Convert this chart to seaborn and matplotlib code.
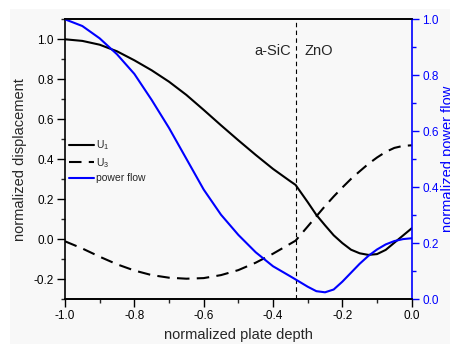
import numpy as np
import pandas as pd
import matplotlib
matplotlib.use("Agg")
import matplotlib.pyplot as plt
from matplotlib.lines import Line2D
from matplotlib.patches import Rectangle
from matplotlib.ticker import MultipleLocator, FormatStrFormatter
import seaborn as sns

# ---- data ----
depth = [-1.00, -0.95, -0.90, -0.85, -0.80, -0.75, -0.70, -0.65, -0.60, -0.55,
         -0.50, -0.45, -0.40, -0.35, -0.335, -0.30, -0.275, -0.25, -0.225, -0.20,
         -0.175, -0.15, -0.125, -0.10, -0.075, -0.05, -0.025, 0.00]
u1 = [1.000, 0.992, 0.973, 0.940, 0.895, 0.845, 0.788, 0.722, 0.647, 0.570,
      0.495, 0.422, 0.352, 0.290, 0.272, 0.186, 0.122, 0.070, 0.020, -0.019,
      -0.052, -0.070, -0.078, -0.074, -0.053, -0.017, 0.019, 0.055]
u3 = [-0.010, -0.046, -0.087, -0.125, -0.156, -0.179, -0.192, -0.197, -0.194, -0.179,
      -0.154, -0.117, -0.072, -0.022, -0.007, 0.064, 0.115, 0.166, 0.214, 0.259,
      0.302, 0.340, 0.377, 0.409, 0.437, 0.457, 0.467, 0.470]
power = [1.000, 0.976, 0.932, 0.875, 0.805, 0.712, 0.612, 0.502, 0.392, 0.302,
         0.230, 0.168, 0.118, 0.082, 0.071, 0.045, 0.029, 0.025, 0.035, 0.063,
         0.095, 0.127, 0.155, 0.178, 0.196, 0.208, 0.215, 0.218]
interface = -0.335
labels = ["U$_1$", "U$_3$", "power flow"]

df = pd.DataFrame({"depth": depth, "u1": u1, "u3": u3, "power": power})

sns.set_style("ticks")
plt.rcParams["font.family"] = ["Liberation Sans", "DejaVu Sans"]
plt.rcParams["mathtext.fontset"] = "custom"
plt.rcParams["mathtext.rm"] = "Liberation Sans"
plt.rcParams["mathtext.it"] = "Liberation Sans"
plt.rcParams["mathtext.default"] = "regular"
plt.rcParams["axes.unicode_minus"] = False

fig = plt.figure(figsize=(4.5, 3.44), dpi=100, facecolor="white")
fig.patches.append(Rectangle((10 / 450, 0), 1, 1 - 9 / 344, transform=fig.transFigure,
                             facecolor="#f8f8f8", edgecolor="none", zorder=-10))
ax = fig.add_axes([65 / 450, 1 - 299.3 / 344, 346.7 / 450, 280 / 344])
ax.set_facecolor("none")
ax2 = ax.twinx()
ax2.set_facecolor("none")

blue = "#0000ff"
lw = 1.5
sns.lineplot(data=df, x="depth", y="u1", ax=ax, color="black", lw=lw, sort=False,
             estimator=None)
sns.lineplot(data=df, x="depth", y="u3", ax=ax, color="black", lw=lw, sort=False,
             estimator=None, linestyle=(0, (6, 3.5)))
sns.lineplot(data=df, x="depth", y="power", ax=ax2, color=blue, lw=lw, sort=False,
             estimator=None)
ax.axvline(interface, color="black", lw=0.8, ls=(0, (4, 3)))

ax.set_xlim(-1.0, 0.0)
ax.set_ylim(-0.3, 1.1)
ax2.set_ylim(0, 1.0)

ax.xaxis.set_major_locator(MultipleLocator(0.2))
ax.xaxis.set_minor_locator(MultipleLocator(0.1))
ax.yaxis.set_major_locator(MultipleLocator(0.2))
ax.yaxis.set_minor_locator(MultipleLocator(0.1))
ax2.yaxis.set_major_locator(MultipleLocator(0.2))
ax2.yaxis.set_minor_locator(MultipleLocator(0.1))
for a in (ax.xaxis, ax.yaxis, ax2.yaxis):
    a.set_major_formatter(FormatStrFormatter("%.1f"))

ax.tick_params(axis="both", which="major", direction="out", length=5.5, width=1,
               labelsize=8.5, colors="black", pad=2.5)
ax.tick_params(axis="both", which="minor", direction="out", length=3, width=1)
ax.tick_params(axis="x", top=False)
ax2.tick_params(axis="x", which="both", bottom=False, top=True, labelbottom=False,
                labeltop=False, direction="in", length=4, width=1)
ax2.tick_params(axis="y", which="major", direction="out", length=5, width=1,
                colors=blue, labelsize=8.5, pad=2.5)
ax2.tick_params(axis="y", which="minor", direction="out", length=3, width=1, colors=blue)

for s in ax.spines.values():
    s.set_linewidth(1.2)
    s.set_color("black")
ax.spines["right"].set_visible(False)
for name, s in ax2.spines.items():
    s.set_linewidth(1.2)
    s.set_color("black")
ax2.spines["right"].set_color(blue)
ax2.spines["left"].set_visible(False)

ax.set_xlabel("normalized plate depth", fontsize=10.5, labelpad=4)
ax.set_ylabel("normalized displacement", fontsize=10.5, labelpad=5)
ax2.set_ylabel("normalized power flow", fontsize=10.5, color=blue, labelpad=2)

ax.text(interface - 0.013, 0.943, "a-SiC", ha="right", va="center", fontsize=10.5)
ax.text(interface + 0.027, 0.943, "ZnO", ha="left", va="center", fontsize=10.5)

handles = [Line2D([], [], color="black", lw=lw),
           Line2D([], [], color="black", lw=lw, ls=(0, (6, 3.5))),
           Line2D([], [], color=blue, lw=lw)]
ax.legend(handles, labels, loc="center left", bbox_to_anchor=(0.005, 0.495),
          frameon=False, fontsize=7.5, handlelength=2.4, handletextpad=0.2,
          labelspacing=0.35, borderaxespad=0, borderpad=0.2)

fig.savefig("out.png", dpi=100, facecolor=fig.get_facecolor())
